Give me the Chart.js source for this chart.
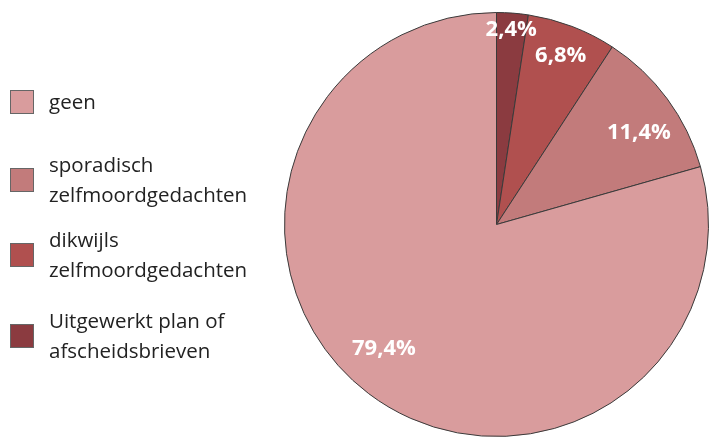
<!DOCTYPE html>
<html>
<head>
<meta charset="utf-8">
<script src="https://cdn.jsdelivr.net/npm/chart.js@4/dist/chart.umd.min.js"></script>
<style>
  body { margin: 0; background: #fff; }
  #wrap { position: relative; width: 710px; height: 437px; }
  #mycanvas { position: absolute; left: 0; top: 0; }
  .item { position: absolute; left: 10px; font-family: "Open Sans", "Noto Sans", sans-serif; font-size: 20.5px; line-height: 30px; color: #222; }
  .box { position: absolute; left: 0; width: 24px; height: 24px; border: 1px solid #666; box-sizing: border-box; }
  .txt { position: absolute; left: 39px; white-space: nowrap; }
</style>
</head>
<body>
<div id="wrap">
  <canvas id="mycanvas" width="710" height="437"></canvas>
  <div id="legend"></div>
</div>
<script>
// slices, clockwise from the top
var categories = ["Uitgewerkt plan of afscheidsbrieven", "dikwijls zelfmoordgedachten", "sporadisch zelfmoordgedachten", "geen"];
var values = [2.4, 6.8, 11.4, 79.4];
var colors = ["#8b3b40", "#b0504f", "#c27b7b", "#d99c9d"];

// legend rows, top to bottom
var legendLines = [["geen"], ["sporadisch", "zelfmoordgedachten"], ["dikwijls", "zelfmoordgedachten"], ["Uitgewerkt plan of", "afscheidsbrieven"]];
var legendColors = ["#d99c9d", "#c27b7b", "#b0504f", "#8b3b40"];
var legendTop = [86, 149, 224, 305];

var legend = document.getElementById("legend");
for (var i = 0; i < legendLines.length; i++) {
	var h = legendLines[i].length * 30;
	var item = document.createElement("div");
	item.className = "item";
	item.style.top = legendTop[i] + "px";
	item.style.height = h + "px";
	var box = document.createElement("div");
	box.className = "box";
	box.style.background = legendColors[i];
	box.style.top = (h / 2 - 11) + "px";
	var txt = document.createElement("div");
	txt.className = "txt";
	txt.innerHTML = legendLines[i].join("<br>");
	item.appendChild(box);
	item.appendChild(txt);
	legend.appendChild(item);
}

// label placement: fraction of radius and a small angle nudge (radians)
var labelRadius = [0.92, 0.85, 0.8, 0.79];
var labelNudge = [0, 0, 0.06, 0.09];

var pieLabels = {
	id: "pieLabels",
	afterDatasetsDraw: function(chart) {
		var ctx = chart.ctx;
		var meta = chart.getDatasetMeta(0);
		ctx.save();
		ctx.fillStyle = "#fff";
		ctx.font = "bold 22px 'Open Sans', 'Noto Sans', sans-serif";
		ctx.textAlign = "center";
		ctx.textBaseline = "middle";
		meta.data.forEach(function(arc, i) {
			var p = arc.getProps(["x", "y", "startAngle", "endAngle", "outerRadius"], true);
			var mid = (p.startAngle + p.endAngle) / 2 + labelNudge[i];
			var r = p.outerRadius * labelRadius[i];
			var txt = values[i].toFixed(1).replace(".", ",") + "%";
			ctx.fillText(txt, p.x + Math.cos(mid) * r, p.y + Math.sin(mid) * r);
		});
		ctx.restore();
	}
};

var chartdata = {
	labels: categories,
	datasets: [
		{
			data: values,
			backgroundColor: colors,
			borderColor: "#3a3a3a",
			borderWidth: 1
		}
	]
};

var ctx = document.getElementById("mycanvas");

var PieGraph = new Chart(ctx, {
	type: "pie",
	data: chartdata,
	plugins: [pieLabels],
	options: {
		responsive: false,
		animation: false,
		layout: { padding: { left: 284, right: 1, top: 12, bottom: 0 } },
		plugins: {
			legend: { display: false },
			tooltip: { enabled: false }
		}
	}
});
</script>
</body>
</html>
